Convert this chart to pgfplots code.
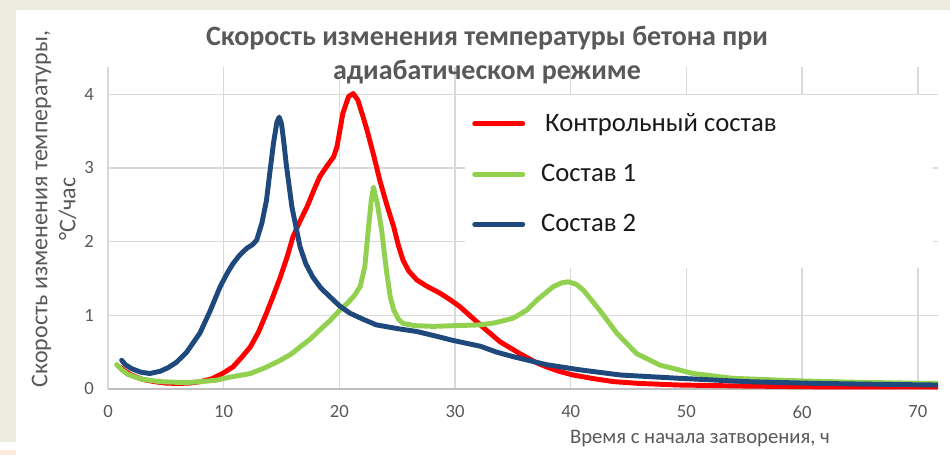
\documentclass[border=0pt]{standalone}
\usepackage{fontspec}
\setmainfont{Carlito}
\usepackage{pgfplots}
\pgfplotsset{compat=1.18}
\definecolor{txtgray}{HTML}{595959}
\definecolor{gridgray}{HTML}{D9D9D9}
\definecolor{axgray}{HTML}{BFBFBF}
\definecolor{cred}{HTML}{FF0000}
\definecolor{cgreen}{HTML}{92D050}
\definecolor{cblue}{HTML}{1F497D}
\definecolor{beige}{HTML}{EEECE1}
\definecolor{peach}{HTML}{FDEADA}
\begin{document}
\begin{tikzpicture}[x=0.75pt,y=0.75pt]
\fill[white] (0,0) rectangle (950,455);
\useasboundingbox (0,0) rectangle (950,455);
\fill[beige] (0,13) rectangle (16,455);
\fill[beige] (0,445) rectangle (950,455);
\fill[peach] (0,0) rectangle (16,5);
\begin{axis}[
  at={(81pt,49.5pt)}, anchor=south west,
  scale only axis, width=622.5pt, height=241.5pt,
  xmin=0, xmax=71.75, ymin=0, ymax=4.37,
  xtick={0,10,...,70}, ytick={0,1,2,3,4},
  grid=major, grid style={gridgray, line width=1.1pt},
  major tick length=0pt,
  axis line style={draw=none},
  axis x line*=bottom, axis y line*=left,
  /pgf/number format/assume math mode=true,
  ticklabel style={font=\fontsize{14}{16}\selectfont, text=txtgray},
  yticklabel style={xshift=-7pt},
  xticklabel style={yshift=-9pt},
  legend style={at={(axis cs:30.86,3.99)}, anchor=north west, draw=none, fill=none,
    font=\fontsize{20}{23}\selectfont, text=black!90,
    inner xsep=5.25pt, inner ysep=12pt, row sep=19pt,
    /tikz/every odd column/.append style={column sep=10pt}},
  legend cell align=left,
  legend image code/.code={\draw[#1, line width=3.7pt, line cap=round] (0pt,0pt) -- (36pt,0pt);},
  every axis plot/.append style={line width=3.7pt, line join=round, line cap=round},
]
\fill[white] (axis cs:30.86,3.99) rectangle (axis cs:71.3,1.64);
\draw[axgray, line width=1.2pt] (axis cs:0,0) -- (axis cs:71.75,0);
\addplot[cred] coordinates {
(1.0,0.30)(1.5,0.24)(2,0.19)(3,0.13)(4,0.10)(5,0.08)(6,0.075)(7,0.08)(8,0.10)(9,0.14)(9.5,0.18)(10,0.22)
(10.8,0.30)(11.5,0.42)(12.3,0.57)(13,0.77)(13.7,1.03)(14.3,1.27)(14.9,1.52)(15.5,1.80)(16.0,2.07)(16.6,2.28)
(17.2,2.47)(17.8,2.70)(18.3,2.88)(18.9,3.02)(19.5,3.15)(19.8,3.29)(20.3,3.74)(20.8,3.97)(21.2,4.01)(21.6,3.92)
(22.0,3.72)(22.4,3.51)(23.0,3.15)(23.5,2.83)(24.1,2.50)(24.7,2.20)(25.1,1.95)(25.5,1.75)(26.0,1.60)(26.7,1.48)
(27.5,1.40)(28.7,1.30)(29.5,1.22)(30.4,1.12)(31.4,0.98)(32.4,0.84)(33.9,0.64)(35.6,0.48)(37.0,0.36)(37.9,0.30)
(39.0,0.24)(40.2,0.19)(42.0,0.14)(43.7,0.10)(46,0.075)(49.4,0.054)(55,0.04)(61,0.03)(66,0.03)(71.7,0.03)
};
\addlegendentry{\hspace{3pt}Контрольный состав}
\addplot[cgreen] coordinates {
(0.75,0.33)(1.2,0.26)(1.7,0.20)(2.2,0.17)(3,0.13)(4.5,0.10)(6,0.09)(7,0.09)(8,0.10)(9.4,0.12)(10.5,0.16)
(12.3,0.21)(13.6,0.29)(14.9,0.39)(15.8,0.47)(16.6,0.57)(17.5,0.68)(18.3,0.80)(19.2,0.93)(20.05,1.07)(20.8,1.18)
(21.3,1.27)(21.8,1.39)(22.2,1.66)(22.5,2.16)(22.75,2.55)(22.95,2.74)(23.3,2.50)(23.65,2.16)(24.1,1.57)(24.4,1.25)
(24.7,1.07)(25.1,0.95)(25.5,0.89)(26.5,0.86)(28.1,0.85)(30,0.86)(32.2,0.87)(33.5,0.90)(35,0.96)(36.2,1.07)
(37.1,1.21)(38.5,1.39)(39.2,1.44)(39.8,1.455)(40.5,1.42)(41.1,1.34)(42.5,1.07)(44,0.755)(45.7,0.48)(47.7,0.325)
(50.6,0.21)(54,0.145)(59.8,0.11)(65,0.09)(71.7,0.075)
};
\addlegendentry{Состав 1}
\addplot[cblue] coordinates {
(1.18,0.39)(1.5,0.33)(2,0.28)(2.8,0.23)(3.6,0.21)(4.5,0.24)(5.2,0.29)(5.9,0.36)(6.8,0.50)(7.95,0.76)(8.8,1.05)
(9.7,1.39)(10.3,1.57)(10.8,1.70)(11.4,1.82)(12.0,1.91)(12.5,1.96)(12.85,2.02)(13.3,2.25)(13.7,2.56)(14.0,2.95)
(14.3,3.33)(14.6,3.62)(14.8,3.69)(15.0,3.60)(15.2,3.35)(15.4,3.06)(15.9,2.47)(16.6,1.93)(17.1,1.70)(17.7,1.52)
(18.4,1.37)(19.2,1.25)(20.0,1.13)(20.9,1.03)(22,0.95)(23.2,0.87)(25,0.82)(26.7,0.78)(28.3,0.72)(29.8,0.66)
(31,0.62)(32.2,0.58)(33.6,0.50)(35,0.44)(37.9,0.33)(40.8,0.26)(44.3,0.19)(49.4,0.145)(55.2,0.10)(61,0.077)
(66,0.065)(71.7,0.054)
};
\addlegendentry{Состав 2}
\end{axis}
\node[align=center, text=txtgray, font=\fontsize{21}{25.5}\selectfont\bfseries] at (487,400)
  {Скорость изменения температуры бетона при\\адиабатическом режиме};
\node[align=center, rotate=90, text=txtgray, font=\fontsize{18}{21}\selectfont] at (54,246)
  {Скорость изменения температуры,\\°C/час};
\node[text=txtgray, font=\fontsize{15.5}{18}\selectfont] at (700,16)
  {Время с начала затворения, ч};
\end{tikzpicture}
\end{document}
